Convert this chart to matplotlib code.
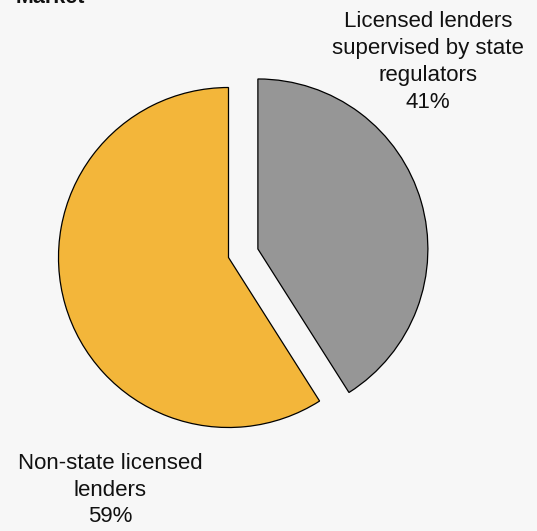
import matplotlib
matplotlib.use("Agg")
import matplotlib.pyplot as plt

# Share of the market by lender supervision type
categories = ["Licensed lenders\nsupervised by state\nregulators", "Non-state licensed\nlenders"]
shares = [41, 59]
colors = ["#969696", "#F3B63A"]
title_tail = "Market"

W, H = 537, 531
fig = plt.figure(figsize=(W / 100, H / 100), dpi=100, facecolor="#F7F7F7")
ax = fig.add_axes([0, 0, 1, 1])

plt.rcParams["font.family"] = ["Liberation Sans", "DejaVu Sans"]

radius = 170
# explode offsets are in data units here, so scale by the radius
ax.pie(
    shares,
    colors=colors,
    startangle=90,
    counterclock=False,
    explode=[0.18 * radius, 0],
    center=(228.5, H - 257.5),
    radius=radius,
    wedgeprops=dict(edgecolor="black", linewidth=0.9),
    frame=True,
)
ax.set_xlim(0, W)
ax.set_ylim(0, H)
ax.set_aspect("equal")
ax.axis("off")

ax.text(428, H - 62, f"{categories[0]}\n{shares[0]}%", ha="center", va="center",
        fontsize=16, linespacing=1.36, color="#111111")
ax.text(110, H - 490, f"{categories[1]}\n{shares[1]}%", ha="center", va="center",
        fontsize=16, linespacing=1.36, color="#111111")

ax.text(16, H - 3, title_tail, ha="left", va="baseline", fontsize=15.5,
        fontweight="bold", color="#111111")

fig.savefig("out.png", dpi=100, facecolor=fig.get_facecolor())
